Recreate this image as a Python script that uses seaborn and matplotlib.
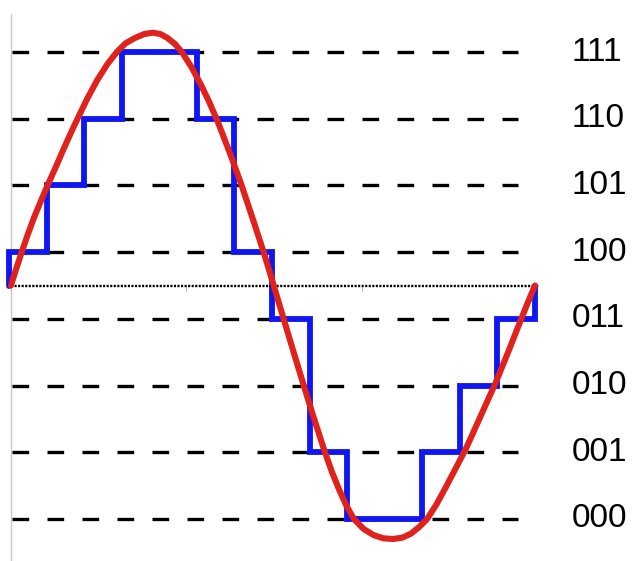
import matplotlib
matplotlib.use("Agg")
import matplotlib.pyplot as plt
import seaborn as sns
import numpy as np
import pandas as pd

sns.set_theme(style="white")
plt.rcParams['font.family'] = ['Liberation Sans', 'DejaVu Sans']

# Quantisation levels (codes) and their binary labels
level_codes = [7, 6, 5, 4, 3, 2, 1, 0]
level_labels = ["111", "110", "101", "100", "011", "010", "001", "000"]

# Sampled (quantised) code for each of the 14 sample intervals
sample_index = list(range(14))
sample_codes = [4, 5, 6, 7, 7, 6, 4, 3, 1, 0, 0, 1, 2, 3]

# Analogue signal (x in sample units, y in code units)
sig_x = [0.05, 0.18, 0.32, 0.49, 0.66, 0.85, 1.04, 1.24, 1.44, 1.64, 1.84, 2.10,
         2.35, 2.62, 2.87, 3.10, 3.35, 3.60, 3.83, 4.03, 4.22, 4.42, 4.60, 4.85,
         5.10, 5.33, 5.56, 5.87, 6.18, 6.50, 6.79, 7.03, 7.30, 7.56, 7.83, 8.10,
         8.41, 8.60, 8.78, 8.98, 9.18, 9.44, 9.70, 9.96, 10.22, 10.47, 10.70, 10.92,
         11.13, 11.38, 11.65, 11.90, 12.16, 12.56, 12.96, 13.30, 13.60, 13.80, 14.0]
sig_y = [3.50, 3.73, 3.97, 4.25, 4.51, 4.77, 5.02, 5.27, 5.53, 5.78, 6.02, 6.32,
         6.58, 6.82, 7.00, 7.13, 7.21, 7.27, 7.29, 7.27, 7.21, 7.12, 7.00, 6.78,
         6.52, 6.25, 5.95, 5.50, 5.02, 4.48, 3.98, 3.53, 3.02, 2.53, 2.03, 1.54,
         1.00, 0.70, 0.45, 0.20, 0.00, -0.15, -0.24, -0.29, -0.30, -0.28, -0.22, -0.12,
         0.00, 0.22, 0.50, 0.77, 1.05, 1.55, 2.05, 2.52, 2.95, 3.23, 3.50]

zero_code = 3.5
axis_ticks = [0.0, 14 / 3, 28 / 3, 14.0]

fig = plt.figure(figsize=(6.33, 5.61), dpi=100)
ax = fig.add_axes([0, 0, 1, 1])
ax.set_xlim(-0.24, 16.61)
ax.set_ylim(-0.63, 7.78)
ax.axis("off")

# dashed level lines
for c in level_codes:
    ax.plot([0.07, 13.55], [c, c], color="black", lw=2.4,
            dashes=(5, 5.5), zorder=1, solid_capstyle="butt", dash_capstyle="butt")

# left vertical axis (thin grey)
ax.plot([0.05, 0.05], [-0.7, 7.57], color="#c8c8c8", lw=1.0, zorder=0)
# small ticks on the zero line
for t in axis_ticks:
    ax.plot([t + 0.05, t + 0.05], [zero_code, zero_code - 0.08], color="#c0c0c0", lw=0.8, zorder=0)

# staircase (quantised signal)
step_x = [sample_index[0]] + sample_index + [14, 14]
step_y = [zero_code] + sample_codes + [sample_codes[-1], zero_code]
stair = pd.DataFrame({"x": step_x, "y": step_y})
sns.lineplot(data=stair, x="x", y="y", ax=ax, sort=False, estimator=None,
             drawstyle="steps-post", color="#0f16f2", lw=4.2, zorder=3,
             solid_joinstyle="miter")

# zero line (dotted)
ax.plot([0.05, 14.1], [zero_code, zero_code], color="black", lw=1.7,
        dashes=(0.9, 0.6), zorder=4)

# analogue sine
sig = pd.DataFrame({"x": sig_x, "y": sig_y})
sns.lineplot(data=sig, x="x", y="y", ax=ax, sort=False, estimator=None,
             color="#e0221c", lw=4.4, zorder=5, solid_joinstyle="round",
             solid_capstyle="round")

# binary labels
for c, lab in zip(level_codes, level_labels):
    ax.text(14.98, c, lab, fontsize=24, ha="left", va="center", color="black")

ax.set_xlabel("")
ax.set_ylabel("")
fig.savefig("out.png", dpi=100)
